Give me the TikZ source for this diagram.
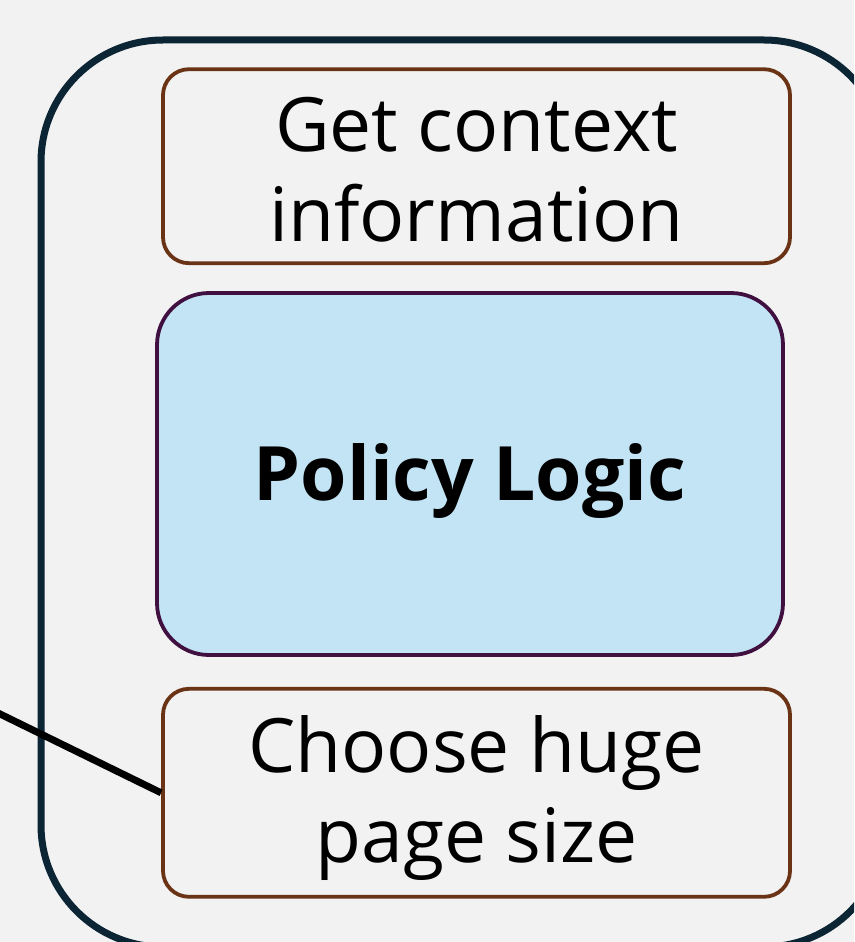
\documentclass[tikz,border=0pt]{standalone}
\usepackage{fontspec}
\setmainfont{Open Sans}
\usepackage{tikz}
\usetikzlibrary{positioning}

\definecolor{pagegray}{HTML}{F2F2F2}
\definecolor{framenavy}{HTML}{0B2535}
\definecolor{stepbrown}{HTML}{6A3315}
\definecolor{logicplum}{HTML}{401040}
\definecolor{logicblue}{HTML}{C2E4F4}

% two centred lines, dropped a little inside their box
\newcommand{\steptext}[3]{\raisebox{-#1}[\height][\depth]{\begin{tabular}{@{}c@{}}#2\\#3\end{tabular}}}

\begin{document}
\begin{tikzpicture}[x=1pt,y=1pt,node distance=28pt,
    taskbox/.style={draw=stepbrown,line width=3.8pt,rounded corners=26pt,
      minimum width=627pt,inner sep=0pt,align=center,
      font=\fontsize{75}{90}\selectfont},
    logicbox/.style={draw=logicplum,fill=logicblue,line width=3.8pt,
      rounded corners=52pt,minimum width=626pt,minimum height=362pt,
      text height=70pt,text depth=18pt,
      font=\fontsize{75}{91}\selectfont\bfseries}]
        \useasboundingbox (0,0) rectangle (854,-942);
        \clip (0,0) rectangle (854,-942);
        \fill[pagegray] (0,0) rectangle (854,-942);
        % surrounding frame
        \draw[framenavy,line width=7pt,rounded corners=122pt]
          (41,-40) rectangle (886,-947);
        \node[logicbox] (logic) at (470,-474) {Policy Logic};
        \node[taskbox,minimum height=194pt] (context)
          [above=26pt of logic,xshift=6.5pt] {\steptext{12pt}{Get context}{information}};
        \node[taskbox,minimum height=208pt] (choose)
          [below=30pt of logic,xshift=6.5pt] {\steptext{7pt}{Choose huge}{page size}};
        \coordinate (feed) at (-4,-712);
        \draw[line width=7pt] (feed) -- (choose.west);
\end{tikzpicture}
\end{document}
